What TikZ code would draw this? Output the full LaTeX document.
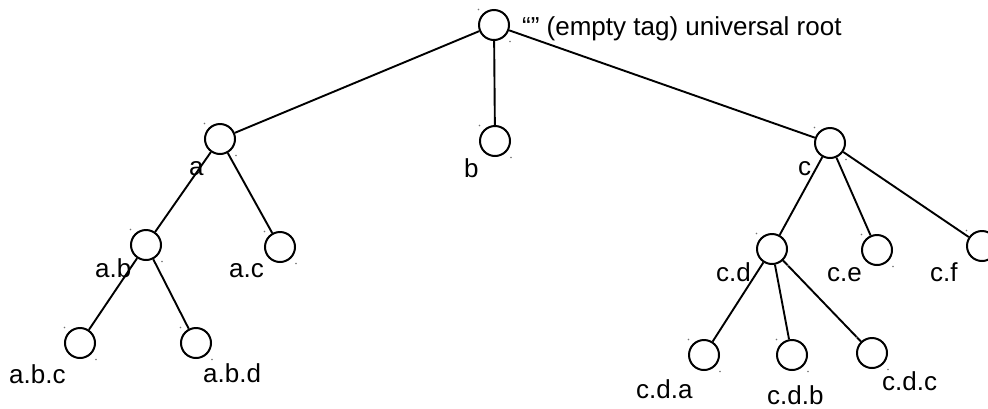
\documentclass[tikz,border=0pt]{standalone}
\usepackage{fontspec}
\setmainfont{Liberation Sans}
\usetikzlibrary{calc}
\begin{document}
\begin{tikzpicture}[x=1pt,y=-1pt,
  tn/.style={circle,draw,line width=2pt,minimum size=30pt,inner sep=0pt},
  lab/.style={anchor=base west,inner sep=0pt,font=\fontsize{26}{30}\selectfont},
  edge/.style={line width=1.9pt},
  hd/.style={fill=black!55}]
\useasboundingbox (0,0) rectangle (988,408);
\begin{scope}
\clip (0,0) rectangle (988,408);
% nodes
\node[tn] (root) at (494,25) {};
\node[tn] (a) at (220,139) {};
\node[tn] (b) at (495,141) {};
\node[tn] (c) at (830,143) {};
\node[tn] (ab) at (146,245) {};
\node[tn] (ac) at (280,247) {};
\node[tn] (abc) at (80,343) {};
\node[tn] (abd) at (196,343) {};
\node[tn] (cd) at (772,249) {};
\node[tn] (ce) at (877,250) {};
\node[tn] (cf) at (982,246) {};
\node[tn] (cda) at (704,355) {};
\node[tn] (cdb) at (792,355) {};
\node[tn] (cdc) at (872,353) {};
% edges
\draw[edge] (root) -- (a);
\draw[edge] (root) -- (b);
\draw[edge] (root) -- (c);
\draw[edge] (a) -- (ab);
\draw[edge] (a) -- (ac);
\draw[edge] (ab) -- (abc);
\draw[edge] (ab) -- (abd);
\draw[edge] (c) -- (cd);
\draw[edge] (c) -- (ce);
\draw[edge] (c) -- (cf);
\draw[edge] (cd) -- (cda);
\draw[edge] (cd) -- (cdb);
\draw[edge] (cd) -- (cdc);
% handle dots
\foreach \n in {root,a,b,c,ab,ac,abc,abd,cd,ce,cf,cda,cdb,cdc}{
  \fill[hd] ($(\n.center)+(-15.5,-15.5)$) circle (0.8pt);
  \fill[hd] ($(\n.center)+(16,16.5)$) circle (0.8pt);
}
\end{scope}
% labels
\node[lab] (lroot) at (522,35) {“” (empty tag) universal root};
\node[lab] (la) at (189,175) {a};
\node[lab] (lb) at (464,177) {b};
\node[lab] (lc) at (798,175) {c};
\node[lab] (lab) at (95,277) {a.b};
\node[lab] (lac) at (229,277) {a.c};
\node[lab] (labc) at (9,383) {a.b.c};
\node[lab] (labd) at (203,382) {a.b.d};
\node[lab] (lcd) at (716,281) {c.d};
\node[lab] (lce) at (827,281) {c.e};
\node[lab] (lcf) at (930,281) {c.f};
\node[lab] (lcda) at (636,398) {c.d.a};
\node[lab] (lcdb) at (767,404) {c.d.b};
\node[lab] (lcdc) at (882,390) {c.d.c};
\end{tikzpicture}
\end{document}
